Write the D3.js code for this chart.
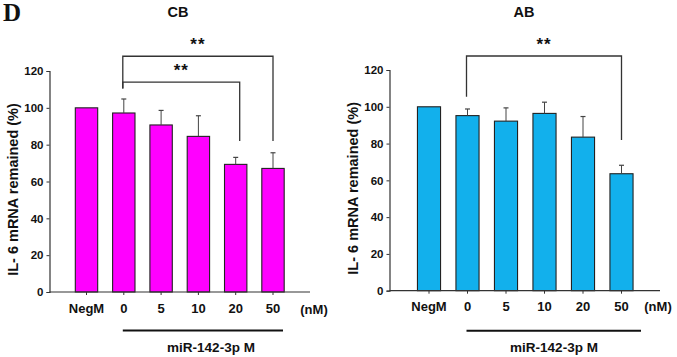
<!DOCTYPE html>
<html>
    <head>
        <style>
            body { margin: 0; background: #fff; }
            svg text { font-family: "Liberation Sans", Arial, sans-serif; font-weight: bold; fill: #111; }
            .panelLetter { font-family: "Liberation Serif", "Times New Roman", serif; }
        </style>
        <script src="https://cdnjs.cloudflare.com/ajax/libs/d3/7.8.5/d3.min.js"></script>
    </head>
    <body>
        <div id="chart"></div>
        <script>
            // values
            const categories = ["NegM", "0", "5", "10", "20", "50"];
            const yTicks = [0, 20, 40, 60, 80, 100, 120];

            const cbMeans = [100, 97.2, 90.7, 84.5, 69.3, 67.1];
            const cbErrors = [0, 7.6, 7.9, 11.2, 3.8, 8.5];

            const abMeans = [100, 95.2, 92.2, 96.4, 83.5, 63.6];
            const abErrors = [0, 3.6, 7.2, 6.1, 11.2, 4.6];

            // significance brackets: [from, to, bracket level, left leg end, right leg end]
            const cbBrackets = [["0", "50", 128, 110.5, 82], ["0", "20", 114, 110.5, 82]];
            const abBrackets = [["0", "50", 127.6, 105.5, 82]];

            const w = 677, h = 357;
            const svg = d3.select("#chart").append("svg")
                .attr("width", w)
                .attr("height", h);

            svg.append("text")
                .attr("class", "panelLetter")
                .attr("x", 3)
                .attr("y", 21)
                .attr("font-size", 25)
                .text("D");

            function drawPanel(opt) {
                const g = svg.append("g");

                const x = d3.scaleBand()
                    .domain(categories)
                    .range(opt.xRange)
                    .paddingInner(0.4)
                    .paddingOuter(0.2);

                const y = d3.scaleLinear()
                    .domain([0, 120])
                    .range(opt.yRange);

                const data = categories.map((c, i) => ({ cat: c, mean: opt.means[i], err: opt.errors[i] }));

                // bars
                g.selectAll(".bar")
                    .data(data)
                    .enter()
                    .append("rect")
                    .attr("class", "bar")
                    .attr("x", d => x(d.cat))
                    .attr("y", d => y(d.mean))
                    .attr("width", x.bandwidth())
                    .attr("height", d => y(0) - y(d.mean))
                    .attr("fill", opt.color)
                    .attr("stroke", "#222")
                    .attr("stroke-width", 1.1);

                // error bars
                const errs = data.filter(d => d.err > 0);
                g.selectAll(".errLine")
                    .data(errs)
                    .enter()
                    .append("line")
                    .attr("x1", d => x(d.cat) + x.bandwidth() / 2)
                    .attr("x2", d => x(d.cat) + x.bandwidth() / 2)
                    .attr("y1", d => y(d.mean))
                    .attr("y2", d => y(d.mean + d.err))
                    .attr("stroke", "#444")
                    .attr("stroke-width", 1);
                g.selectAll(".errCap")
                    .data(errs)
                    .enter()
                    .append("line")
                    .attr("x1", d => x(d.cat) + x.bandwidth() / 2 - 2.5)
                    .attr("x2", d => x(d.cat) + x.bandwidth() / 2 + 2.5)
                    .attr("y1", d => y(d.mean + d.err))
                    .attr("y2", d => y(d.mean + d.err))
                    .attr("stroke", "#444")
                    .attr("stroke-width", 1.2);

                // y axis
                const yAxis = d3.axisLeft(y).tickValues(yTicks).tickSize(3).tickPadding(3);
                const ya = g.append("g")
                    .attr("transform", "translate(" + opt.axisX + ",0)")
                    .call(yAxis);
                ya.select(".domain").attr("stroke", "#333").attr("stroke-width", 1.2);
                ya.selectAll(".tick line").attr("stroke", "#333");
                ya.selectAll("text").attr("font-size", 11.5).attr("fill", "#111")
                    .attr("font-family", "Liberation Sans, Arial, sans-serif").attr("font-weight", "bold");

                // x axis
                const xAxis = d3.axisBottom(x).tickSize(3).tickPadding(opt.xPad);
                const xa = g.append("g")
                    .attr("transform", "translate(0," + y(0) + ")")
                    .call(xAxis);
                xa.select(".domain").remove();
                xa.selectAll(".tick line").attr("stroke", "#333");
                xa.selectAll("text").attr("font-size", 13).attr("fill", "#111")
                    .attr("font-family", "Liberation Sans, Arial, sans-serif").attr("font-weight", "bold");
                g.append("line")
                    .attr("x1", opt.axisX)
                    .attr("x2", opt.axisEnd)
                    .attr("y1", y(0))
                    .attr("y2", y(0))
                    .attr("stroke", "#333")
                    .attr("stroke-width", 1.2);

                const c = k => x(k) + x.bandwidth() / 2;

                g.append("text")
                    .attr("x", opt.nmX)
                    .attr("y", y(0) + opt.xPad + 3 + 13 * 0.71 + 0.5)
                    .attr("font-size", 13)
                    .attr("text-anchor", "middle")
                    .text("(nM)");

                // treatment underline and label
                g.append("line")
                    .attr("x1", c("0") - 1)
                    .attr("x2", opt.lineEnd)
                    .attr("y1", opt.lineY)
                    .attr("y2", opt.lineY)
                    .attr("stroke", "#111")
                    .attr("stroke-width", 2);
                g.append("text")
                    .attr("x", opt.treatX)
                    .attr("y", 352)
                    .attr("font-size", 13.5)
                    .attr("text-anchor", "middle")
                    .text("miR-142-3p M");

                // y label
                g.append("text")
                    .attr("transform", "translate(" + (opt.axisX - 32) + "," + ((y(0) + y(120)) / 2 + 8) + ") rotate(-90)")
                    .attr("font-size", 14.5)
                    .attr("text-anchor", "middle")
                    .text("IL- 6 mRNA remained (%)");

                // title
                g.append("text")
                    .attr("x", opt.titleX)
                    .attr("y", 17)
                    .attr("font-size", 14.5)
                    .attr("text-anchor", "middle")
                    .text(opt.title);

                // brackets
                opt.brackets.forEach(b => {
                    const x1 = c(b[0]) - 1, x2 = c(b[1]) + (b[1] === "20" ? 4 : 0);
                    g.append("path")
                        .attr("d", "M" + x1 + "," + y(b[3]) + "V" + y(b[2]) + "H" + x2 + "V" + y(b[4]))
                        .attr("fill", "none")
                        .attr("stroke", "#333")
                        .attr("stroke-width", 1.3);
                    g.append("text")
                        .attr("x", (x1 + x2) / 2)
                        .attr("y", y(b[2]) - 6)
                        .attr("font-size", 17)
                        .attr("letter-spacing", 1)
                        .attr("text-anchor", "middle")
                        .text("**");
                });
            }

            drawPanel({
                title: "CB", titleX: 178,
                means: cbMeans, errors: cbErrors, color: "#ff00ff",
                xRange: [67.85, 291.65], yRange: [292, 71],
                axisX: 49.5, axisEnd: 310, xPad: 9,
                nmX: 314, lineY: 330.5, lineEnd: 283, treatX: 211,
                brackets: cbBrackets
            });

            drawPanel({
                title: "AB", titleX: 524,
                means: abMeans, errors: abErrors, color: "#12b0ec",
                xRange: [409.75, 640.75], yRange: [290.7, 70],
                axisX: 389.5, axisEnd: 660, xPad: 8,
                nmX: 658, lineY: 330.8, lineEnd: 641, treatX: 554,
                brackets: abBrackets
            });
        </script>
    </body>
</html>
